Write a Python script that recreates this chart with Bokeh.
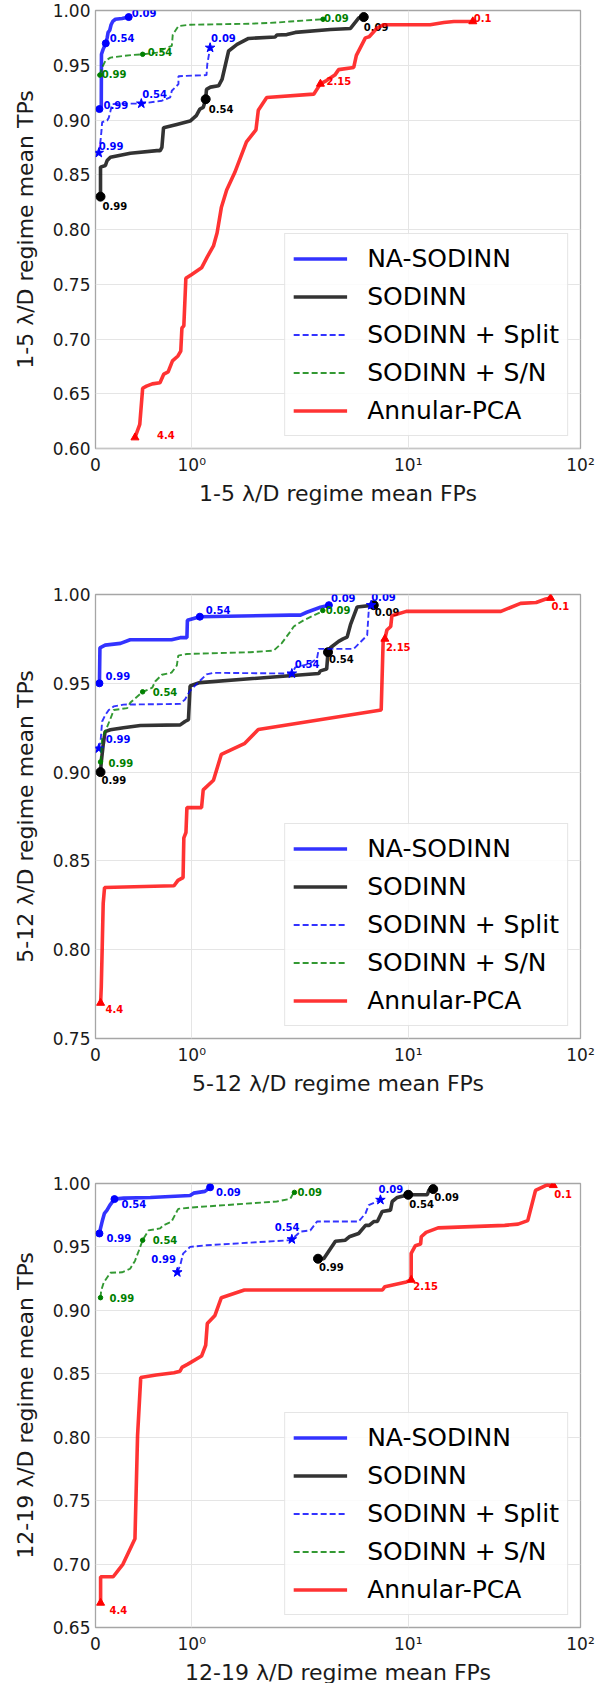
from bokeh.plotting import figure
from bokeh.layouts import column
from bokeh.models import (ColumnDataSource, CustomJSTransform, FixedTicker, CustomJSTickFormatter,
                          PrintfTickFormatter, Legend, LegendItem, Range1d, SingleIntervalTicker)
from bokeh.transform import transform
from bokeh.core.properties import value
from bokeh.embed import file_html
from bokeh.resources import INLINE

# ---------------- data (mean FPs, mean TPs) ----------------
nn_thresholds = ["0.99", "0.54", "0.09"]
pca_thresholds = ["4.4", "2.15", "0.1"]

# Panel 1 : 1-5 lambda/D
p1_na_fp = [0.041, 0.060, 0.062, 0.079, 0.107, 0.121, 0.131, 0.148, 0.162, 0.179, 0.207, 0.276, 0.345]
p1_na_tp = [0.910, 0.913, 0.960, 0.9645, 0.970, 0.975, 0.980, 0.982, 0.987, 0.990, 0.992, 0.9927, 0.994]
p1_na_marks = [0, 4, 12]
p1_sod_fp = [0.052, 0.052, 0.103, 0.121, 0.155, 0.362, 0.638, 0.672, 0.69, 0.707, 0.845, 0.983, 1.05, 1.09,
             1.13, 1.16, 1.17, 1.22, 1.33, 1.38, 1.48, 1.62, 1.83, 2.43, 2.47, 2.75, 3.01, 4.37, 5.41, 5.91, 6.23]
p1_sod_tp = [0.830, 0.857, 0.8585, 0.863, 0.866, 0.8697, 0.872, 0.872, 0.875, 0.893, 0.896, 0.899, 0.904, 0.910,
             0.9115, 0.919, 0.928, 0.930, 0.9312, 0.937, 0.963, 0.969, 0.9745, 0.9758, 0.9776, 0.978, 0.980,
             0.9827, 0.9836, 0.9933, 0.994]
p1_sod_marks = [0, 15, 30]
p1_split_fp = [0.034, 0.052, 0.062, 0.069, 0.121, 0.138, 0.155, 0.172, 0.293, 0.476, 0.69, 0.776, 0.793, 0.862,
               0.862, 1.17, 1.18, 1.216]
p1_split_tp = [0.870, 0.881, 0.890, 0.898, 0.8995, 0.902, 0.908, 0.9145, 0.915, 0.915, 0.9176, 0.9206, 0.9267,
               0.9327, 0.940, 0.941, 0.951, 0.966]
p1_split_marks = [0, 9, 17]
p1_sn_fp = [0.045, 0.069, 0.103, 0.155, 0.293, 0.397, 0.49, 0.638, 0.741, 0.793, 0.803, 0.862, 0.983, 1.86,
            2.47, 2.85, 4.04]
p1_sn_tp = [0.941, 0.948, 0.954, 0.957, 0.9585, 0.9595, 0.960, 0.9615, 0.966, 0.9676, 0.978, 0.9858, 0.987,
            0.9879, 0.989, 0.990, 0.992]
p1_sn_marks = [0, 6, 16]
p1_pca_fp = [0.41, 0.46, 0.49, 0.53, 0.59, 0.67, 0.71, 0.755, 0.80, 0.857, 0.886, 0.898, 0.918, 0.939, 1.0,
             1.11, 1.18, 1.26, 1.31, 1.37, 1.45, 1.58, 1.79, 1.98, 2.03, 2.22, 3.66, 3.93, 4.19, 4.58, 4.77,
             5.6, 5.76, 6.34, 6.6, 7.18, 7.7, 13.4, 16.1, 18.4, 23.7]
p1_pca_tp = [0.610, 0.622, 0.655, 0.657, 0.659, 0.660, 0.668, 0.670, 0.680, 0.6845, 0.689, 0.710, 0.712, 0.7555,
             0.759, 0.765, 0.775, 0.785, 0.797, 0.820, 0.836, 0.852, 0.880, 0.891, 0.909, 0.9206, 0.9236, 0.933,
             0.936, 0.941, 0.946, 0.948, 0.959, 0.975, 0.976, 0.984, 0.987, 0.987, 0.989, 0.990, 0.990]
p1_pca_marks = [0, 27, 40]

# Panel 2 : 5-12 lambda/D
p2_na_fp = [0.041, 0.046, 0.10, 0.26, 0.36, 0.79, 0.88, 0.95, 0.955, 1.09, 2.85, 3.18, 3.4, 3.93, 4.30]
p2_na_tp = [0.950, 0.970, 0.9715, 0.9725, 0.9745, 0.9745, 0.9757, 0.9757, 0.9855, 0.9875, 0.9884, 0.9884,
            0.990, 0.9928, 0.994]
p2_na_marks = [0, 9, 14]
p2_sod_fp = [0.052, 0.06, 0.079, 0.10, 0.155, 0.29, 0.466, 0.88, 0.93, 0.966, 0.983, 1.05, 1.09, 3.86, 3.93,
             4.20, 4.26, 4.37, 4.77, 5.0, 5.22, 5.41, 5.81, 6.93]
p2_sod_tp = [0.900, 0.9057, 0.915, 0.9228, 0.9238, 0.925, 0.9262, 0.9266, 0.9285, 0.9295, 0.9485, 0.9498,
             0.9504, 0.9555, 0.957, 0.958, 0.9675, 0.970, 0.9736, 0.975, 0.976, 0.983, 0.993, 0.994]
p2_sod_marks = [0, 16, 23]
p2_split_fp = [0.034, 0.052, 0.069, 0.10, 0.138, 0.19, 0.29, 0.88, 0.93, 0.98, 1.05, 1.17, 1.26, 2.85, 2.9,
               3.01, 3.5, 3.79, 3.86, 5.6, 6.46, 6.57, 6.74]
p2_split_tp = [0.9133, 0.917, 0.9285, 0.932, 0.935, 0.937, 0.938, 0.9384, 0.9409, 0.9456, 0.9494, 0.955,
               0.9559, 0.9555, 0.9555, 0.959, 0.961, 0.964, 0.9694, 0.9694, 0.977, 0.991, 0.994]
p2_split_marks = [0, 14, 22]
p2_sn_fp = [0.052, 0.069, 0.10, 0.155, 0.19, 0.33, 0.36, 0.49, 0.59, 0.62, 0.69, 0.79, 0.845, 0.86, 0.95,
            1.86, 2.39, 2.6, 2.85, 2.96, 3.29, 3.93, 4.03]
p2_sn_tp = [0.9057, 0.919, 0.9228, 0.930, 0.935, 0.936, 0.939, 0.9452, 0.9475, 0.951, 0.9548, 0.956, 0.960,
            0.9656, 0.9665, 0.9675, 0.9684, 0.9725, 0.979, 0.982, 0.9855, 0.990, 0.991]
p2_sn_marks = [0, 7, 22]
p2_pca_fp = [0.053, 0.06, 0.07, 0.08, 0.094, 0.816, 0.857, 0.91, 0.918, 0.94, 0.95, 1.11, 1.13, 1.26, 1.37,
             1.75, 2.03, 7.5, 7.66, 7.8, 7.97, 8.3, 8.4, 9.8, 34.5, 44.9, 55.3, 62.9, 67.0]
p2_pca_tp = [0.770, 0.779, 0.802, 0.826, 0.835, 0.836, 0.839, 0.8406, 0.863, 0.866, 0.880, 0.880, 0.890,
             0.8954, 0.910, 0.916, 0.924, 0.935, 0.9746, 0.975, 0.980, 0.982, 0.988, 0.9905, 0.9905, 0.995,
             0.9955, 0.9975, 0.998]
p2_pca_marks = [0, 19, 28]

# Panel 3 : 12-19 lambda/D
p3_na_fp = [0.041, 0.052, 0.069, 0.093, 0.12, 0.15, 0.197, 0.293, 0.57, 0.776, 0.983, 1.02, 1.15, 1.216]
p3_na_tp = [0.9606, 0.9646, 0.970, 0.9765, 0.979, 0.983, 0.9877, 0.9885, 0.989, 0.9898, 0.9906, 0.9924,
            0.9938, 0.997]
p3_na_marks = [0, 6, 13]
p3_sod_fp = [3.83, 4.07, 4.61, 5.12, 5.34, 5.9, 6.35, 6.6, 6.93, 7.2, 7.58, 8.28, 8.43, 8.9, 10.0, 12.9,
             13.2, 13.96]
p3_sod_tp = [0.9407, 0.9407, 0.9545, 0.9553, 0.958, 0.9606, 0.967, 0.967, 0.970, 0.970, 0.9779, 0.979,
             0.9858, 0.989, 0.9911, 0.9911, 0.9951, 0.9956]
p3_sod_marks = [0, 14, 17]
p3_split_fp = [0.85, 0.88, 0.91, 0.983, 1.17, 2.85, 2.9, 3.17, 3.53, 3.79, 5.9, 6.35, 6.57, 7.44]
p3_split_tp = [0.930, 0.9354, 0.9447, 0.950, 0.9513, 0.9553, 0.956, 0.962, 0.963, 0.970, 0.970, 0.9765,
               0.983, 0.9871]
p3_split_marks = [0, 6, 13]
p3_sn_fp = [0.052, 0.059, 0.086, 0.155, 0.276, 0.36, 0.41, 0.45, 0.49, 0.55, 0.67, 0.71, 0.79, 0.845, 0.86,
            0.98, 2.47, 2.85, 2.95, 2.98]
p3_sn_tp = [0.910, 0.9155, 0.922, 0.9296, 0.930, 0.9328, 0.939, 0.947, 0.9553, 0.963, 0.9646, 0.9672, 0.970,
            0.9779, 0.980, 0.981, 0.9858, 0.9879, 0.9924, 0.993]
p3_sn_marks = [0, 8, 19]
p3_pca_fp = [0.053, 0.053, 0.184, 0.286, 0.41, 0.437, 0.47, 0.55, 0.63, 0.816, 0.878, 0.898, 0.96, 1.11,
             1.16, 1.18, 1.28, 1.37, 1.75, 7.6, 7.8, 9.8, 10.4, 10.4, 11.0, 11.8, 11.9, 12.7, 14.9, 36.3,
             43.4, 49.4, 54.8, 64.0, 69.5]
p3_pca_tp = [0.6694, 0.690, 0.690, 0.700, 0.720, 0.801, 0.847, 0.848, 0.849, 0.8508, 0.852, 0.855, 0.8576,
             0.864, 0.8725, 0.8896, 0.896, 0.910, 0.916, 0.916, 0.9187, 0.9224, 0.924, 0.945, 0.951, 0.9523,
             0.958, 0.9615, 0.965, 0.967, 0.968, 0.9707, 0.9945, 0.9989, 0.9986]
p3_pca_marks = [0, 22, 34]

regimes = ["1-5", "5-12", "12-19"]
y_lows = [0.60, 0.75, 0.65]
x_tick_labels = ["0", "10⁰", "10¹", "10²"]

# ---------------- styling ----------------
FONT = "DejaVu Sans"
A_DEC = 2.25   # width of decade 1-10 relative to the linear 0-1 part
B_DEC = 1.79   # width of decade 10-100

fwd = CustomJSTransform(args=dict(a=A_DEC, b=B_DEC), func="""
return x <= 1 ? x : (x <= 10 ? 1 + a*Math.log10(x) : 1 + a + b*Math.log10(x/10));
""", v_func="""
const out = new Float64Array(xs.length);
for (let i = 0; i < xs.length; i++) {
  const x = xs[i];
  out[i] = x <= 1 ? x : (x <= 10 ? 1 + a*Math.log10(x) : 1 + a + b*Math.log10(x/10));
}
return out;
""")

SERIES = [
    ("na", "NA-SODINN", "#0000ff", 3.6, "solid", "circle", 7, nn_thresholds),
    ("sod", "SODINN", "#000000", 3.6, "solid", "circle", 9, nn_thresholds),
    ("split", "SODINN + Split", "#0000ff", 1.9, "6 3", "star", 10, nn_thresholds),
    ("sn", "SODINN + S/N", "#008000", 1.9, "6 3", "circle", 4.5, nn_thresholds),
    ("pca", "Annular-PCA", "#ff0000", 3.6, "solid", "triangle", 8, pca_thresholds),
]

OFFSETS = [
    {"na": [(4, -4), (4, -5), (3, -4)], "sod": [(2, 9), (3, 10), (0, 10)],
     "split": [(0, -7), (1, -10), (1, -10)], "sn": [(2, -1), (5, -2), (1, -1)],
     "pca": [(22, -3), (6, -3), (1, -3)]},
    {"na": [(6, -7), (6, -7), (2, -7)], "sod": [(1, 8), (1, 7), (1, 7)],
     "split": [(7, -9), (3, -10), (0, -8)], "sn": [(8, 1), (10, 0), (3, 0)],
     "pca": [(5, 6), (1, 8), (1, 8)]},
    {"na": [(7, 5), (7, 5), (6, 5)], "sod": [(1, 8), (1, 9), (1, 8)],
     "split": [(-26, -13), (-17, -12), (-2, -11)], "sn": [(9, 0), (10, 0), (3, 0)],
     "pca": [(9, 7), (2, 6), (1, 9)]},
]

DATA = [
    {"na": (p1_na_fp, p1_na_tp, p1_na_marks), "sod": (p1_sod_fp, p1_sod_tp, p1_sod_marks),
     "split": (p1_split_fp, p1_split_tp, p1_split_marks), "sn": (p1_sn_fp, p1_sn_tp, p1_sn_marks),
     "pca": (p1_pca_fp, p1_pca_tp, p1_pca_marks)},
    {"na": (p2_na_fp, p2_na_tp, p2_na_marks), "sod": (p2_sod_fp, p2_sod_tp, p2_sod_marks),
     "split": (p2_split_fp, p2_split_tp, p2_split_marks), "sn": (p2_sn_fp, p2_sn_tp, p2_sn_marks),
     "pca": (p2_pca_fp, p2_pca_tp, p2_pca_marks)},
    {"na": (p3_na_fp, p3_na_tp, p3_na_marks), "sod": (p3_sod_fp, p3_sod_tp, p3_sod_marks),
     "split": (p3_split_fp, p3_split_tp, p3_split_marks), "sn": (p3_sn_fp, p3_sn_tp, p3_sn_marks),
     "pca": (p3_pca_fp, p3_pca_tp, p3_pca_marks)},
]

# (top border, frame height, bottom border) for each panel
LAYOUT = [(10, 438, 134), (12, 444, 133), (12, 444, 56)]

tick_fmt = CustomJSTickFormatter(args=dict(labs=x_tick_labels), code="""
if (tick < 0.5) return labs[0];
if (tick < 2) return labs[1];
if (tick < 4) return labs[2];
return labs[3];
""")


def make_panel(i):
    top, fh, bottom = LAYOUT[i]
    p = figure(frame_width=485, frame_height=fh,
               x_range=Range1d(0, 1 + A_DEC + B_DEC), y_range=Range1d(y_lows[i], 1.0),
               output_backend="svg", toolbar_location=None,
               min_border_left=95, min_border_right=32, min_border_top=top, min_border_bottom=bottom)
    p.background_fill_color = "white"
    p.outline_line_color = "#a6a6a6"
    p.outline_line_width = 1.3

    p.xaxis.ticker = FixedTicker(ticks=[0, 1, 1 + A_DEC, 1 + A_DEC + B_DEC])
    p.xaxis.formatter = tick_fmt
    p.yaxis.ticker = SingleIntervalTicker(interval=0.05, num_minor_ticks=0)
    p.yaxis.formatter = PrintfTickFormatter(format="%.2f")
    for ax in (p.xaxis[0], p.yaxis[0]):
        ax.axis_line_color = None
        ax.major_tick_line_color = None
        ax.minor_tick_line_color = None
        ax.major_tick_out = 0
        ax.major_tick_in = 0
        ax.major_label_text_font = FONT
        ax.major_label_text_font_size = "17px"
        ax.major_label_text_color = "#1a1a1a"
        ax.axis_label_text_font = FONT
        ax.axis_label_text_font_size = "22px"
        ax.axis_label_text_font_style = "normal"
        ax.axis_label_text_color = "#1a1a1a"
    p.xaxis.major_label_standoff = 6
    p.yaxis.major_label_standoff = 5
    p.xaxis.axis_label = f"{regimes[i]} λ/D regime mean FPs"
    p.yaxis.axis_label = f"{regimes[i]} λ/D regime mean TPs"
    p.xaxis.axis_label_standoff = 3
    p.yaxis.axis_label_standoff = 12
    p.grid.grid_line_color = "#e5e5e5"
    p.grid.grid_line_width = 1

    items = []
    for key, name, color, lw, dash, marker, msize, labels in SERIES:
        fp, tp, marks = DATA[i][key]
        src = ColumnDataSource(dict(fp=fp, tp=tp))
        r = p.line(x=transform("fp", fwd), y="tp", source=src, line_color=color, line_width=lw,
                   line_alpha=0.8, line_dash=dash)
        items.append(LegendItem(label=name, renderers=[r]))
        offs = OFFSETS[i][key]
        msrc = ColumnDataSource(dict(fp=[fp[m] for m in marks], tp=[tp[m] for m in marks], lab=labels,
                                     dx=[o[0] for o in offs], dy=[o[1] for o in offs]))
        p.scatter(x=transform("fp", fwd), y="tp", source=msrc, marker=marker, size=msize,
                  fill_color=color, line_color=color)
        p.text(x=transform("fp", fwd), y="tp", text="lab", source=msrc, x_offset="dx", y_offset="dy",
               text_font=value(FONT), text_font_style="bold", text_font_size="10px",
               text_color=color, text_align="left", text_baseline="middle")

    legend = Legend(items=items, location="bottom_right")
    legend.label_text_font = FONT
    legend.label_text_font_size = "25px"
    legend.label_text_color = "#000000"
    legend.glyph_width = 54
    legend.glyph_height = 33
    legend.label_height = 33
    legend.spacing = 5
    legend.padding = 8
    legend.label_standoff = 20
    legend.margin = 12
    legend.border_line_color = "#cccccc"
    legend.border_line_width = 1
    legend.background_fill_alpha = 0.85
    p.add_layout(legend)
    return p


plots = [make_panel(i) for i in range(3)]
layout = column(*plots, spacing=0)
open("out.html", "w").write(file_html(layout, INLINE))
